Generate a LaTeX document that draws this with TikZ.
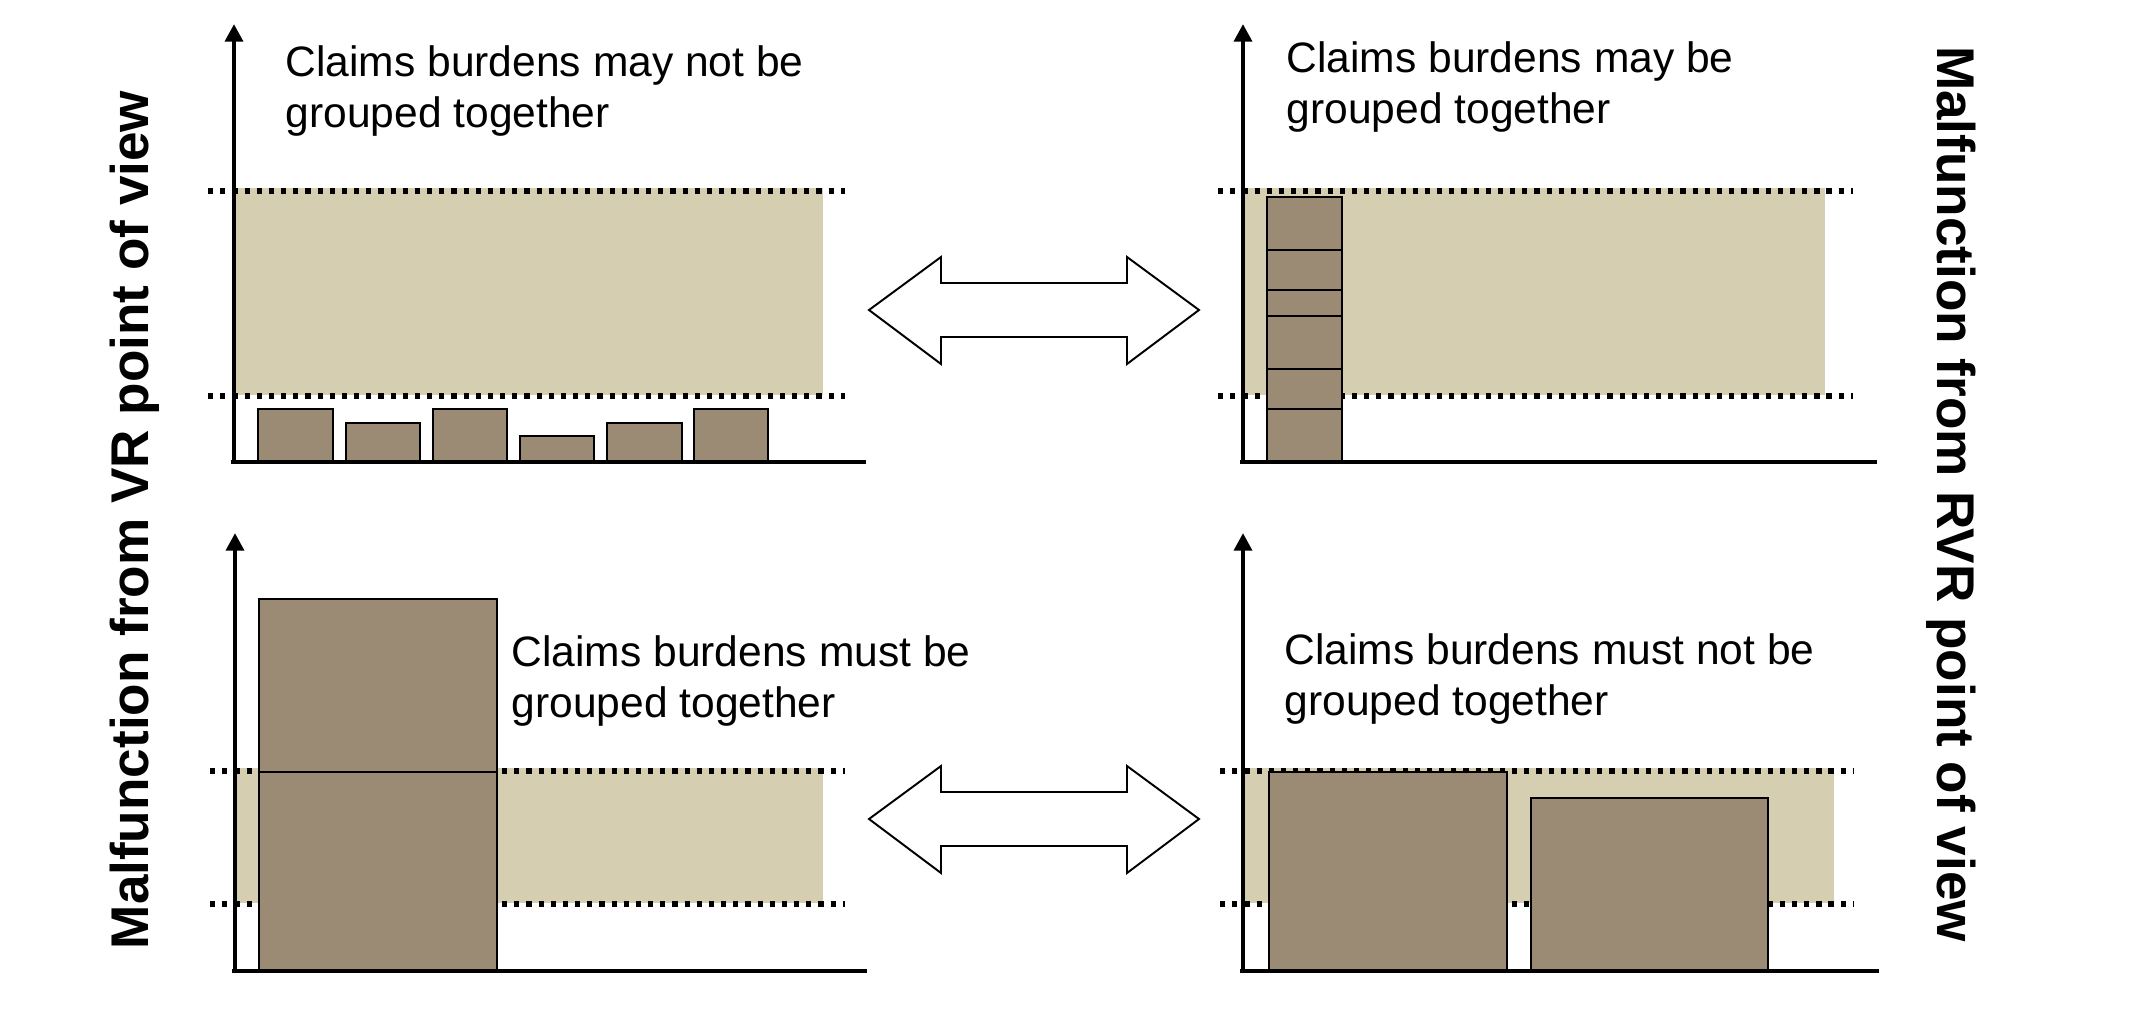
\documentclass[tikz,border=0pt]{standalone}
\usepackage{fontspec}
\setmainfont{Liberation Sans}
\usetikzlibrary{arrows.meta}
\begin{document}
\begin{tikzpicture}[x=0.01cm,y=-0.01cm,
  band/.style={fill=bandc,draw=none},
  dotline/.style={line width=1.5pt,dash pattern=on 1.5pt off 1.96pt},
  bar/.style={fill=barc,draw=black,line width=0.55pt},
  axis/.style={line width=1.3pt},
  yaxis/.style={line width=1.3pt,-{Triangle[length=5pt,width=5pt]}},
  dblarrow/.style={draw=black,fill=white,line width=0.55pt},
  lbl/.style={anchor=north west,inner sep=0pt,align=left,font=\fontsize{12.1pt}{14.5pt}\selectfont},
  side/.style={anchor=base,inner sep=0pt,font=\fontsize{15.1pt}{18pt}\selectfont\bfseries}]
\definecolor{bandc}{RGB}{214,206,176}
\definecolor{barc}{RGB}{155,138,116}
\useasboundingbox (0,0) rectangle (2133,1018);

% side labels
\node[side,rotate=90] (lv) at (148,520) {Malfunction from VR point of view};
\node[side,rotate=-90] (rv) at (1937,494) {Malfunction from RVR point of view};

% ===== top-left panel =====
\fill[bandc] (234,188) rectangle (823,395);
\draw[dotline] (208,191) -- (845,191);
\draw[dotline] (208,396) -- (845,396);
\draw[bar] (258,409) rectangle (333,461);
\draw[bar] (346,423) rectangle (420,461);
\draw[bar] (433,409) rectangle (507,461);
\draw[bar] (520,436) rectangle (594,461);
\draw[bar] (607,423) rectangle (682,461);
\draw[bar] (694,409) rectangle (768,461);
\draw[yaxis] (234,464) -- (234,24);
\draw[axis] (231,462) -- (866,462);
\node[lbl] (tl) at (285,45) {Claims burdens may not be\\grouped together};

% ===== top-right panel =====
\fill[bandc] (1243,188) rectangle (1825,395);
\draw[dotline] (1218,191) -- (1853,191);
\draw[dotline] (1218,396) -- (1853,396);
\draw[bar] (1267,197) rectangle (1342,250);
\draw[bar] (1267,250) rectangle (1342,290);
\draw[bar] (1267,290) rectangle (1342,316);
\draw[bar] (1267,316) rectangle (1342,369);
\draw[bar] (1267,369) rectangle (1342,409);
\draw[bar] (1267,409) rectangle (1342,461);
\draw[yaxis] (1243,464) -- (1243,24);
\draw[axis] (1240,462) -- (1877,462);
\node[lbl] (tr) at (1286,41) {Claims burdens may be\\grouped together};

% ===== bottom-left panel =====
\fill[bandc] (235,768) rectangle (823,903);
\draw[dotline] (210,771) -- (845,771);
\draw[dotline] (210,904) -- (845,904);
\draw[bar] (259,599) rectangle (497,772);
\draw[bar] (259,772) rectangle (497,970);
\draw[yaxis] (235,973) -- (235,533);
\draw[axis] (232,971) -- (867,971);
\node[lbl] (bl) at (511,635) {Claims burdens must be\\grouped together};

% ===== bottom-right panel =====
\fill[bandc] (1243,768) rectangle (1834,903);
\draw[dotline] (1220,771) -- (1854,771);
\draw[dotline] (1220,904) -- (1854,904);
\draw[bar] (1269,772) rectangle (1507,970);
\draw[bar] (1531,798) rectangle (1768,970);
\draw[yaxis] (1243,973) -- (1243,533);
\draw[axis] (1240,971) -- (1879,971);
\node[lbl] (br) at (1284,633) {Claims burdens must not be\\grouped together};

% ===== double arrows =====
\draw[dblarrow] (869,310) -- (941,257) -- (941,283) -- (1127,283) -- (1127,257) -- (1199,310)
  -- (1127,364) -- (1127,337) -- (941,337) -- (941,364) -- cycle;
\draw[dblarrow] (869,819) -- (941,766) -- (941,792) -- (1127,792) -- (1127,766) -- (1199,819)
  -- (1127,873) -- (1127,846) -- (941,846) -- (941,873) -- cycle;
\end{tikzpicture}
\end{document}
